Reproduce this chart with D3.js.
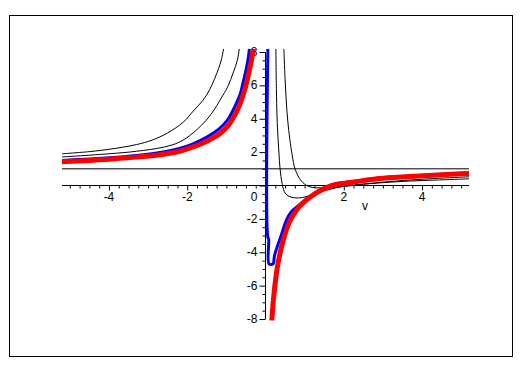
<!DOCTYPE html>
<html lang="en">
  <head>
    <meta charset="utf-8" />
    <title>Maple style plot</title>
    <script type="text/javascript" src="https://cdn.jsdelivr.net/npm/d3@7"></script>
    <style>
      body { margin: 0; background: white; }
    </style>
  </head>
  <body>
    <script type="text/javascript">
// curves as [v, y] pairs
var redLeft = [[-5.2, 1.43], [-4.5, 1.5], [-4, 1.58], [-3.3, 1.7], [-2.7, 1.84], [-2.2, 2.05],
               [-1.85, 2.31], [-1.5, 2.65], [-1.17, 3.1], [-0.95, 3.6], [-0.79, 4.2], [-0.65, 4.9],
               [-0.53, 5.75], [-0.44, 6.6], [-0.36, 7.5], [-0.31, 8.2]];
var redRight = [[0.16, -8.1], [0.2, -6.9], [0.23, -6.2], [0.31, -4.8], [0.44, -3.4], [0.61, -2.2],
                [0.87, -1.25], [1.29, -0.45], [1.7, 0], [2.3, 0.22], [2.9, 0.42], [3.7, 0.54],
                [4.4, 0.63], [5.2, 0.72]];
var blueLeft = [[-5.2, 1.5], [-4, 1.66], [-3.3, 1.8], [-2.7, 1.98], [-2.2, 2.22], [-1.85, 2.5],
                [-1.5, 2.9], [-1.17, 3.42], [-0.95, 4.0], [-0.79, 4.7], [-0.65, 5.45], [-0.58, 6.1],
                [-0.5, 6.9], [-0.45, 7.5], [-0.41, 8.2]];
var blueRight = [[0.06, 8.2], [0.06, -3.1], [0.08, -3.2], [0.09, -4.7], [0.19, -4.7], [0.23, -4.2],
                 [0.31, -3.6], [0.4, -3.0], [0.53, -2.1], [0.65, -1.6], [0.87, -1.15], [1.29, -0.4],
                 [1.7, 0.03], [2.3, 0.26], [2.9, 0.45], [3.7, 0.57], [4.4, 0.66], [5.2, 0.75]];
var blackA = [[-5.2, 1.9], [-4.5, 2.03], [-4, 2.17], [-3.3, 2.45], [-2.9, 2.72], [-2.5, 3.15],
              [-2.1, 3.8], [-1.85, 4.45], [-1.6, 5.1], [-1.43, 5.73], [-1.3, 6.4], [-1.2, 7.0],
              [-1.13, 7.52], [-1.07, 8.2]];
var blackB = [[-5.2, 1.71], [-4, 1.9], [-3.3, 2.05], [-2.6, 2.3], [-2.2, 2.6], [-1.85, 3.15],
              [-1.43, 4.15], [-1.09, 5.4], [-0.95, 6.0], [-0.83, 6.73], [-0.72, 7.5], [-0.67, 8.2]];
var blackC = [[0.265, 8.2], [0.278, 5.8], [0.295, 4.1], [0.32, 2.85], [0.345, 1.9], [0.37, 1.06],
              [0.43, 0.05], [0.5, -0.45], [0.6, -0.65], [0.75, -0.74], [0.95, -0.72], [1.2, -0.55],
              [1.6, -0.25], [2.0, -0.05], [2.5, 0.08], [3, 0.17], [3.7, 0.27], [4.4, 0.33], [5.2, 0.4]];
var blackD = [[0.47, 8.2], [0.5, 6.4], [0.57, 3.84], [0.68, 1.85], [0.76, 0.96], [0.92, 0.26],
              [1.09, -0.04], [1.3, -0.14], [1.6, -0.12], [2, -0.05], [2.5, 0.08], [3, 0.2],
              [3.7, 0.33], [4.4, 0.43], [5.2, 0.52]];
var asymptoteY = 1;
var xTicks = [-4, -2, 2, 4];
var yTicks = [-8, -6, -4, -2, 0, 2, 4, 6, 8];
var xLabel = "v";

var w = 531;
var h = 366;
var svg = d3.select("body")
            .append("svg")
            .attr("width", w)
            .attr("height", h);

// frame
svg.append("rect")
   .attr("x", 9.5)
   .attr("y", 15.5)
   .attr("width", 503)
   .attr("height", 341)
   .attr("fill", "none")
   .attr("stroke", "black");

var xScale = d3.scaleLinear()
               .domain([-5.2, 5.2])
               .range([62, 469]);
var yScale = d3.scaleLinear()
               .domain([-8, 8])
               .range([319, 52]);

svg.append("clipPath")
   .attr("id", "plotclip")
   .append("rect")
   .attr("x", xScale(-5.2))
   .attr("y", yScale(8.2))
   .attr("width", xScale(5.2) - xScale(-5.2))
   .attr("height", yScale(-8.1) - yScale(8.2));

// horizontal line at y = 1
svg.append("line")
   .attr("x1", xScale(-5.2))
   .attr("x2", xScale(5.2))
   .attr("y1", yScale(asymptoteY))
   .attr("y2", yScale(asymptoteY))
   .attr("stroke", "black")
   .attr("stroke-width", 1);

// axes
var xAxis = d3.axisBottom(xScale)
              .tickValues(d3.range(-5.0, 5.01, 0.25))
              .tickSize(3)
              .tickFormat("");
var yAxis = d3.axisLeft(yScale)
              .tickValues(d3.range(-8, 8.01, 0.5))
              .tickSize(3)
              .tickFormat("");
var gx = svg.append("g")
            .attr("transform", "translate(0," + yScale(0) + ")")
            .call(xAxis);
var gy = svg.append("g")
            .attr("transform", "translate(" + xScale(0) + ",0)")
            .call(yAxis);
gx.select(".domain").remove();
gy.select(".domain").remove();
gx.selectAll(".tick line").attr("stroke", "black");
gy.selectAll(".tick line").attr("stroke", "black");
svg.append("line")
   .attr("x1", xScale(-5.2)).attr("x2", xScale(5.2))
   .attr("y1", yScale(0)).attr("y2", yScale(0))
   .attr("stroke", "black");
svg.append("line")
   .attr("x1", xScale(0)).attr("x2", xScale(0))
   .attr("y1", yScale(8)).attr("y2", yScale(-8))
   .attr("stroke", "black");
// longer major ticks
gx.selectAll(".tick line")
  .filter(function(d) { return Math.abs(d - Math.round(d)) < 1e-6 && Math.round(d) % 2 === 0; })
  .attr("y2", 5);
gy.selectAll(".tick line")
  .filter(function(d) { return Math.abs(d - Math.round(d)) < 1e-6 && Math.round(d) % 2 === 0; })
  .attr("x2", -6);

svg.append("g")
   .selectAll("text")
   .data(xTicks)
   .enter()
   .append("text")
   .text(function(d) { return d; })
   .attr("x", function(d) { return xScale(d); })
   .attr("y", yScale(0) + 15)
   .attr("font-family", "Liberation Sans, sans-serif")
   .attr("font-size", "12px")
   .attr("text-anchor", "middle");
svg.append("g")
   .selectAll("text")
   .data(yTicks)
   .enter()
   .append("text")
   .text(function(d) { return d; })
   .attr("x", xScale(0) - 8)
   .attr("y", function(d) { return yScale(d) + (d === 0 ? 15 : 4); })
   .attr("font-family", "Liberation Sans, sans-serif")
   .attr("font-size", "12px")
   .attr("text-anchor", "end");
svg.append("text")
   .text(xLabel)
   .attr("x", 365)
   .attr("y", 210)
   .attr("font-family", "Liberation Sans, sans-serif")
   .attr("font-size", "12px")
   .attr("text-anchor", "middle");

var line = d3.line()
             .x(function(d) { return xScale(d[0]); })
             .y(function(d) { return yScale(d[1]); })
             .curve(d3.curveCatmullRom.alpha(0.5));

var curves = [
  { data: blackA, color: "black", width: 1 },
  { data: blackB, color: "black", width: 1 },
  { data: blackC, color: "black", width: 1 },
  { data: blackD, color: "black", width: 1 },
  { data: blueLeft, color: "#0000ff", width: 3 },
  { data: blueRight, color: "#0000ff", width: 3 },
  { data: redLeft, color: "#ff0000", width: 5 },
  { data: redRight, color: "#ff0000", width: 5 }
];
svg.append("g")
   .attr("clip-path", "url(#plotclip)")
   .selectAll("path")
   .data(curves)
   .enter()
   .append("path")
   .attr("d", function(d) { return line(d.data); })
   .attr("fill", "none")
   .attr("stroke", function(d) { return d.color; })
   .attr("stroke-width", function(d) { return d.width; });
    </script>
  </body>
</html>
